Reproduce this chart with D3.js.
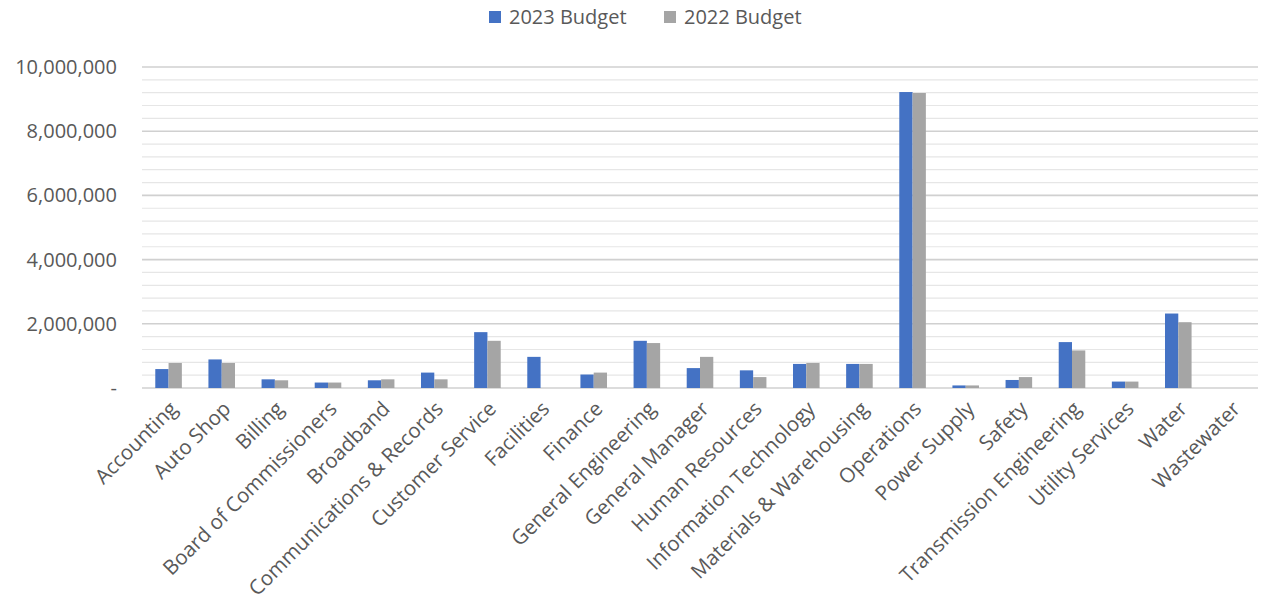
<!DOCTYPE html>
<html>
<head>
<meta charset="utf-8">
<script src="https://cdn.jsdelivr.net/npm/d3@7"></script>
<style>
  body { margin: 0; background: #fff; }
  text { font-family: "Open Sans", "Noto Sans", sans-serif; fill: #595959; }
</style>
</head>
<body>
<div id="chart"></div>
<script>
// departments along the x axis
var departments = ["Accounting", "Auto Shop", "Billing", "Board of Commissioners", "Broadband",
    "Communications & Records", "Customer Service", "Facilities", "Finance", "General Engineering",
    "General Manager", "Human Resources", "Information Technology", "Materials & Warehousing",
    "Operations", "Power Supply", "Safety", "Transmission Engineering", "Utility Services",
    "Water", "Wastewater"];

var budget2023 = [590000, 890000, 270000, 170000, 240000, 480000, 1740000, 970000, 420000, 1470000,
    620000, 550000, 750000, 750000, 9220000, 80000, 250000, 1430000, 200000, 2320000, 0];

var budget2022 = [780000, 780000, 240000, 170000, 270000, 270000, 1470000, 0, 480000, 1400000,
    970000, 340000, 780000, 750000, 9190000, 80000, 340000, 1170000, 200000, 2050000, 0];

var seriesNames = ["2023 Budget", "2022 Budget"];
var seriesColors = ["#4472C4", "#A5A5A5"];
var yTicks = [0, 2000000, 4000000, 6000000, 8000000, 10000000];

var width = 1262, height = 605;
var margin = {top: 67, right: 4, bottom: 217, left: 142};
var innerW = width - margin.left - margin.right;
var innerH = height - margin.top - margin.bottom;

var svg = d3.select("#chart").append("svg")
    .attr("width", width)
    .attr("height", height);

var g = svg.append("g")
    .attr("transform", "translate(" + margin.left + "," + margin.top + ")");

var x0 = d3.scaleBand().domain(departments).range([0, innerW])
    .paddingInner(0.5).paddingOuter(0.25);
var x1 = d3.scaleBand().domain([0, 1]).range([0, x0.bandwidth()]);
var y = d3.scaleLinear().domain([0, 10000000]).range([innerH, 0]);

// minor gridlines every 400k
var minor = d3.range(0, 10000001, 400000).filter(function (v) { return v % 2000000 !== 0; });
g.selectAll(".minor").data(minor).enter().append("line")
    .attr("x1", 0).attr("x2", innerW)
    .attr("y1", function (d) { return y(d); }).attr("y2", function (d) { return y(d); })
    .attr("stroke", "#e6e6e6").attr("stroke-width", 1.2);

// major gridlines
g.selectAll(".major").data(yTicks).enter().append("line")
    .attr("x1", 0).attr("x2", innerW)
    .attr("y1", function (d) { return y(d); }).attr("y2", function (d) { return y(d); })
    .attr("stroke", "#d0d0d0").attr("stroke-width", 1.6);

// y labels
g.selectAll(".ylab").data(yTicks).enter().append("text")
    .attr("x", -25)
    .attr("y", function (d) { return y(d); })
    .attr("dy", "0.35em")
    .attr("text-anchor", "end")
    .attr("font-size", 20)
    .text(function (d) { return d === 0 ? "-" : d3.format(",")(d); });

// bars
var groups = g.selectAll(".dept").data(departments).enter().append("g")
    .attr("transform", function (d) { return "translate(" + x0(d) + ",0)"; });

groups.selectAll("rect")
    .data(function (d, i) { return [budget2023[i], budget2022[i]]; })
    .enter().append("rect")
    .attr("x", function (d, j) { return x1(j); })
    .attr("y", function (d) { return y(d); })
    .attr("width", x1.bandwidth())
    .attr("height", function (d) { return innerH - y(d); })
    .attr("fill", function (d, j) { return seriesColors[j]; });

// x labels
g.selectAll(".xlab").data(departments).enter().append("text")
    .attr("transform", function (d) {
        return "translate(" + (x0(d) + x0.bandwidth() / 2 + 5) + "," + (innerH + 17) + ") rotate(-45)";
    })
    .attr("text-anchor", "end")
    .attr("dy", "0.35em")
    .attr("font-size", 20.5)
    .text(function (d) { return d; });

// legend
var legend = svg.append("g").attr("transform", "translate(489,0)");
var lx = [0, 175];
seriesNames.forEach(function (name, i) {
    legend.append("rect")
        .attr("x", lx[i]).attr("y", 11)
        .attr("width", 12).attr("height", 12)
        .attr("fill", seriesColors[i]);
    legend.append("text")
        .attr("x", lx[i] + 20).attr("y", 17)
        .attr("dy", "0.35em")
        .attr("font-size", 20)
        .text(name);
});
</script>
</body>
</html>
